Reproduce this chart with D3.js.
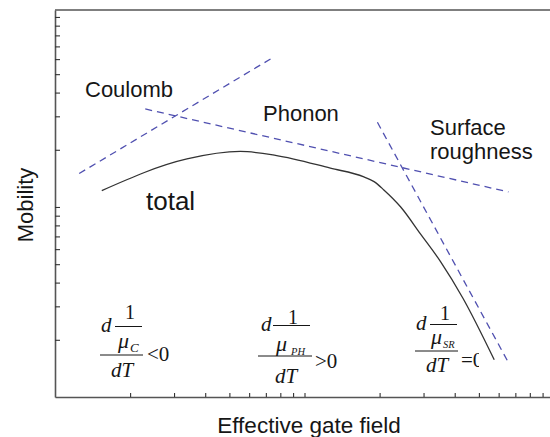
<!DOCTYPE html>
<html>
<head>
<meta charset="utf-8">
<script src="https://cdn.jsdelivr.net/npm/d3@7"></script>
<style>
  body { margin: 0; background: #fff; }
  svg { display: block; }
</style>
</head>
<body>
<svg id="chart" width="550" height="437"></svg>
<script>
// Effective gate field (arbitrary units, log scale) and mobility (arbitrary units, log scale)
const fieldTicks = [0.2, 0.3, 0.4, 0.5, 0.6, 0.7, 0.8, 0.9, 1, 2, 3, 4, 5, 6, 7, 8, 9];
const mobilityTicks = [20, 30, 40, 50, 60, 70, 80, 90, 100, 200, 300, 400, 500, 600, 700, 800, 900, 1000];

// Total mobility curve
const totalField    = [0.154, 0.338, 0.553, 0.765, 1.27, 1.73, 1.90, 2.08, 2.43, 2.92, 3.52, 4.31, 5.76];
const totalMobility = [122, 179, 196, 187, 160, 144, 136, 123, 100, 72, 51.3, 33.2, 15.7];

// Asymptotic limits of each scattering mechanism (straight lines on log-log axes)
const coulombField    = [0.125, 0.737];
const coulombMobility = [150, 605];
const phononField     = [0.230, 6.57];
const phononMobility  = [328, 120];
const roughField      = [1.96, 6.60];
const roughMobility   = [279, 15.0];

const svg = d3.select("#chart");
const W = 550, H = 437;
const plotLeft = 55, plotTop = 10, plotBottom = 397;

const x = d3.scaleLog().domain([0.1, 10]).range([plotLeft, 554]);
const y = d3.scaleLog().domain([10, 1088]).range([plotBottom, plotTop]);

const axisColor = "#555";

// Axes with inward minor ticks, no labels
const gx = svg.append("g").attr("transform", `translate(0,${plotBottom})`)
  .call(d3.axisBottom(x).tickValues(fieldTicks).tickSize(-4).tickSizeOuter(0).tickFormat(""));
const gy = svg.append("g").attr("transform", `translate(${plotLeft},0)`)
  .call(d3.axisLeft(y).tickValues(mobilityTicks).tickSize(-5).tickSizeOuter(0).tickFormat(""));
[gx, gy].forEach(g => {
  g.select(".domain").attr("stroke", axisColor).attr("stroke-width", 1.6);
  g.selectAll(".tick line").attr("stroke", "#333").attr("stroke-width", 1.1);
});
// top frame line
svg.append("line")
  .attr("x1", x.range()[0]).attr("x2", W)
  .attr("y1", y.range()[1]).attr("y2", y.range()[1])
  .attr("stroke", axisColor).attr("stroke-width", 1.6);

// Dashed limit lines
const dashColor = "#5050b0";
const limits = [
  [coulombField, coulombMobility],
  [phononField, phononMobility],
  [roughField, roughMobility]
];
const line = d3.line().x(d => x(d[0])).y(d => y(d[1]));
limits.forEach(([fx, my]) => {
  svg.append("path")
    .attr("d", line(fx.map((v, i) => [v, my[i]])))
    .attr("fill", "none")
    .attr("stroke", dashColor)
    .attr("stroke-width", 1.3)
    .attr("stroke-dasharray", "7,5");
});

// Total mobility
svg.append("path")
  .attr("d", d3.line().curve(d3.curveMonotoneX).x(d => x(d[0])).y(d => y(d[1]))(
    totalField.map((v, i) => [v, totalMobility[i]])))
  .attr("fill", "none")
  .attr("stroke", "#333")
  .attr("stroke-width", 1.3);

// Text labels
const sans = "'Liberation Sans', Arial, Helvetica, sans-serif";
const serif = "'Liberation Serif', 'Times New Roman', serif";
const ink = "#161616";

function label(txt, px, py, size, anchor) {
  return svg.append("text").attr("x", px).attr("y", py)
    .attr("font-family", sans).attr("font-size", size)
    .attr("fill", ink).attr("text-anchor", anchor || "start").text(txt);
}
label("Coulomb", 85, 97, 22);
label("Phonon", 263, 121, 22);
label("Surface", 430, 135, 22);
label("roughness", 430, 159, 22);
label("total", 146, 210, 26);
label("Effective gate field", 309, 433, 22.5, "middle");
svg.append("text")
  .attr("transform", "translate(33,205) rotate(-90)")
  .attr("font-family", sans).attr("font-size", 22).attr("fill", ink)
  .attr("text-anchor", "middle").text("Mobility");

// Temperature-derivative annotations: d(1/mu)/dT
function mathLabel(p) {
  const g = svg.append("g");
  if (p.clip) {
    const id = "clip" + p.sub;
    svg.append("clipPath").attr("id", id).append("rect")
      .attr("x", 0).attr("y", 0).attr("width", p.clip).attr("height", H);
    g.attr("clip-path", `url(#${id})`);
  }
  const t = (txt, px, py, size, italic) => g.append("text")
    .attr("x", px).attr("y", py).attr("font-family", serif)
    .attr("font-size", size).attr("font-style", italic ? "italic" : "normal")
    .attr("fill", ink).text(txt);
  const bar = (x1, x2, yy) => g.append("line")
    .attr("x1", x1).attr("x2", x2).attr("y1", yy).attr("y2", yy)
    .attr("stroke", ink).attr("stroke-width", 1);
  t("d", p.d[0], p.d[1], 21, true);
  t("1", p.one[0], p.one[1], 20, false);
  bar(p.short[0], p.short[1], p.short[2]);
  t("\u03BC", p.mu[0], p.mu[1], 22, true);
  t(p.sub, p.s[0], p.s[1], p.subSize, true);
  bar(p.long[0], p.long[1], p.long[2]);
  t(p.rel, p.r[0], p.r[1], 21, false);
  t("dT", p.dt[0], p.dt[1], 21, true);
}
mathLabel({ d: [101, 332], one: [125, 319], short: [115, 142, 326.5], mu: [118, 348],
  sub: "C", s: [130, 352], subSize: 13, long: [100, 143, 355], rel: "<0", r: [147, 361], dt: [111, 377] });
mathLabel({ d: [261, 331], one: [288, 323.5], short: [273, 310, 325.5], mu: [276, 351],
  sub: "PH", s: [291, 355], subSize: 10.5, long: [258, 312, 356], rel: ">0", r: [315, 368], dt: [275, 383] });
mathLabel({ d: [416, 330], one: [440, 320], short: [430, 457, 324.5], mu: [431, 344],
  sub: "SR", s: [443, 348], subSize: 10.5, long: [415, 458, 351], rel: "=0", r: [461, 367], dt: [426, 372], clip: 479 });
</script>
</body>
</html>
